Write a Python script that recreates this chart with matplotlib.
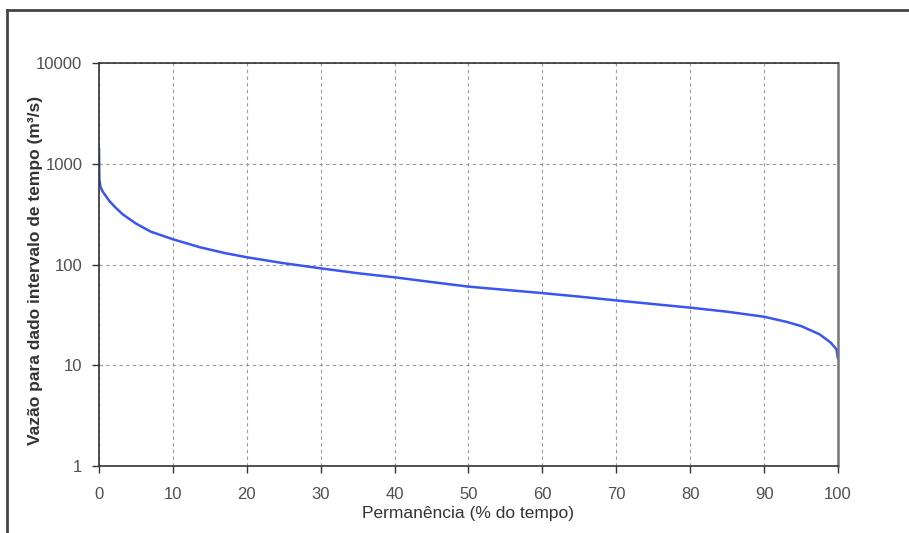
import matplotlib
matplotlib.use('Agg')
import matplotlib.pyplot as plt
from matplotlib.lines import Line2D
from matplotlib.ticker import FixedLocator, NullLocator, FixedFormatter

# curva de permanencia: % do tempo x vazao (m3/s)
permanencia = [0, 0.05, 0.2, 0.5, 1.0, 1.4, 2.2, 3.2, 5, 7, 10, 13.7, 17, 20, 25,
               30, 35, 40, 45, 50, 55, 60, 65, 70, 75, 80, 85, 90, 93, 95,
               97.5, 99, 99.8, 100]
vazao = [1450, 700, 590, 530, 470, 427, 370, 315, 255, 212, 178, 148, 130, 118, 103,
         91.6, 82, 74.6, 67, 60.3, 56, 52, 48, 44, 40.5, 37.3, 34, 30.3, 27, 24.5,
         20.3, 16.8, 14.4, 11.5]

x_ticks = [0, 10, 20, 30, 40, 50, 60, 70, 80, 90, 100]
y_ticks = [1, 10, 100, 1000, 10000]
y_labels = ['1', '10', '100', '1000', '10000']

plt.rcParams['font.family'] = ['Liberation Sans', 'DejaVu Sans']

fig = plt.figure(figsize=(9.09, 5.33), dpi=100)
ax = fig.add_axes([0.1089, 0.1257, 0.8130, 0.7561])

ax.plot(permanencia, vazao, color='#3a55f0', lw=1.8, solid_capstyle='butt')

ax.set_yscale('log')
ax.set_xlim(0, 100)
ax.set_ylim(1, 10000)
ax.xaxis.set_major_locator(FixedLocator(x_ticks))
ax.yaxis.set_major_locator(FixedLocator(y_ticks))
ax.yaxis.set_major_formatter(FixedFormatter(y_labels))
ax.yaxis.set_minor_locator(NullLocator())

ax.grid(True, which='major', ls=(0, (3, 3)), color='#9a9a9a', lw=0.8)
ax.tick_params(direction='out', length=5, width=1, color='#333333',
               labelsize=12, labelcolor='#505050')
ax.tick_params(axis='x', pad=10)
ax.tick_params(axis='y', pad=7)

for side in ['left', 'bottom', 'top']:
    ax.spines[side].set_color('#333333')
    ax.spines[side].set_linewidth(1.2)
ax.spines['right'].set_color('#777777')
ax.spines['right'].set_linewidth(1.8)

ax.set_xlabel('Permanência (% do tempo)', fontsize=12.5, color='#333333', labelpad=3)
ax.set_ylabel('Vazão para dado intervalo de tempo (m³/s)', fontsize=12.5,
              fontweight='bold', color='#333333')
ax.yaxis.set_label_coords(-0.0758, 0.485)

# moldura externa
fig.add_artist(Line2D([0.0077, 0.0077], [0.0, 0.981], color='#444444', lw=2))
fig.add_artist(Line2D([0.0077, 1.0], [0.981, 0.981], color='#444444', lw=2))

plt.savefig('out.png', dpi=100)
